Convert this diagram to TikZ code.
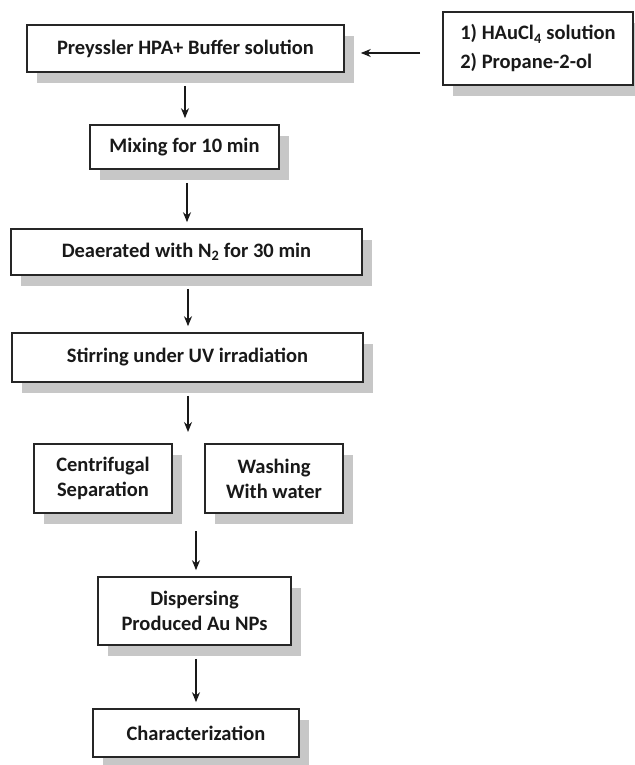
\documentclass[tikz,border=0pt]{standalone}
\usepackage{fontspec}
\setmainfont{Carlito}
\usetikzlibrary{shadows,arrows.meta}
\begin{document}
\begin{tikzpicture}[x=1pt, y=-1pt,
    stage/.style={draw=black!85, line width=1.6pt, fill=white, inner sep=0pt, align=center,
        font=\fontsize{20.5}{25}\selectfont\bfseries, text=black!90,
        drop shadow={shadow xshift=10pt, shadow yshift=-11pt, fill=black!22, opacity=1}},
    flow/.style={-{Stealth[length=10pt, width=8pt]}, line width=1.4pt, black!90, shorten <=13pt, shorten >=6pt}]
        \useasboundingbox[fill=white] (0,0) rectangle (634,765);

        \node[stage, minimum width=317pt, minimum height=47pt] (prey) at (185.5,48.5) {Preyssler HPA+ Buffer solution};
        \node[stage, minimum width=190pt, minimum height=73pt, font=\fontsize{20.5}{29}\selectfont\bfseries, align=left] (hau) at (538,48.5) {1) HAuCl\textsubscript{4} solution\\2) Propane-2-ol};
        \node[stage, minimum width=189pt, minimum height=44pt] (mix) at (184.5,147) {Mixing for 10 min};
        \node[stage, minimum width=351pt, minimum height=46pt] (deaer) at (186.5,252) {Deaerated with N\textsubscript{2} for 30 min};
        \node[stage, minimum width=351pt, minimum height=49pt] (stir) at (187.5,357.5) {Stirring under UV irradiation};
        \node[stage, minimum width=138pt, minimum height=69pt] (centri) at (103,478.5) {Centrifugal\\Separation};
        \node[stage, minimum width=138pt, minimum height=69pt] (wash) at (274,478.5) {Washing\\With water};
        \node[stage, minimum width=193pt, minimum height=68pt] (disp) at (194.5,611) {Dispersing\\Produced Au NPs};
        \node[stage, minimum width=206pt, minimum height=48pt] (charac) at (196,733) {Characterization};

        \coordinate (split) at (188,444);
        \coordinate (join) at (196,518);

        \draw[flow, shorten <=22pt, shorten >=16pt] ([yshift=-4.5pt]hau.west) -- ([yshift=-4.5pt]prey.east);
        \draw[flow] (prey.south -| 185,0) -- (mix.north -| 185,0);
        \draw[flow] (mix.south -| 187,0) -- (deaer.north -| 187,0);
        \draw[flow] (deaer.south -| 188,0) -- (stir.north -| 188,0);
        \draw[flow, shorten >=12pt] (stir.south -| split) -- (split);
        \draw[flow] (join) -- (disp.north -| join);
        \draw[flow] (disp.south -| join) -- (charac.north -| join);
    \end{tikzpicture}
\end{document}
